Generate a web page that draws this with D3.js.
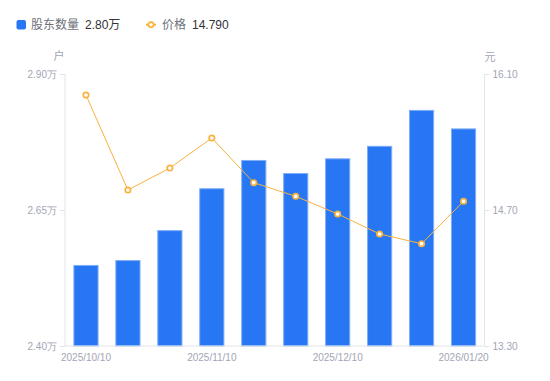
<!DOCTYPE html>
<html><head><meta charset="utf-8">
<script src="https://cdn.jsdelivr.net/npm/d3@7/dist/d3.min.js"></script>
<style>body{margin:0;background:#fff}svg{display:block;font-family:"Liberation Sans","Noto Sans CJK SC",sans-serif}</style>
</head><body><div id="chart"></div>
<script>
const dates = ["2025/10/10","2025/10/20","2025/10/31","2025/11/10","2025/11/20","2025/11/28","2025/12/10","2025/12/19","2025/12/31","2026/01/20"];
const holders = [2.549,2.558,2.613,2.690,2.742,2.718,2.745,2.768,2.834,2.800];
const prices = [15.884,14.906,15.132,15.441,14.981,14.841,14.659,14.453,14.353,14.790];
const shownDates = ["2025/10/10","2025/11/10","2025/12/10","2026/01/20"];
const leftTicks = [2.40,2.65,2.90];
const rightTicks = [13.30,14.70,16.10];

const W=550,H=381;
const m={top:74,right:65.5,bottom:35,left:65};
const svg=d3.select("#chart").append("svg").attr("width",W).attr("height",H);
const x=d3.scaleBand().domain(dates).range([m.left,W-m.right]).paddingInner(0.4).paddingOuter(0.2);
const yL=d3.scaleLinear().domain([2.40,2.90]).range([H-m.bottom,m.top]);
const yR=d3.scaleLinear().domain([13.30,16.10]).range([H-m.bottom,m.top]);
const axisColor="#e3e4e8", txt="#a2a5b4";

// bars
svg.append("g").selectAll("rect").data(holders).join("rect")
  .attr("x",(d,i)=>x(dates[i])+0.5).attr("width",x.bandwidth()-1)
  .attr("y",d=>yL(d)+0.5).attr("height",d=>yL(2.40)-yL(d)-0.5)
  .attr("fill","#2777f4").attr("stroke","#7fadf7").attr("stroke-width",1);

// axes
const gl=svg.append("g").attr("transform",`translate(${m.left},0)`)
  .call(d3.axisLeft(yL).tickValues(leftTicks).tickSize(5).tickPadding(3).tickFormat(d=>d3.format(".2f")(d)+"万"));
const gr=svg.append("g").attr("transform",`translate(${W-m.right},0)`)
  .call(d3.axisRight(yR).tickValues(rightTicks).tickSize(5).tickPadding(3).tickFormat(d3.format(".2f")));
const gb=svg.append("g").attr("transform",`translate(0,${H-m.bottom})`)
  .call(d3.axisBottom(x).tickValues(shownDates).tickSize(0).tickPadding(8));
[gl,gr,gb].forEach(g=>{
  g.selectAll("path,line").attr("stroke",axisColor);
  g.selectAll("text").attr("fill",txt).style("font-size","10px");
  g.select(".domain").attr("stroke",axisColor);
});
gl.select(".domain").attr("d",`M0,${m.top}V${H-m.bottom}`);
gr.select(".domain").attr("d",`M0,${m.top}V${H-m.bottom}`);
gb.select(".domain").attr("d",`M${m.left},0H${W-m.right}`);

// unit labels
svg.append("text").attr("x",59).attr("y",60).attr("text-anchor","middle").attr("fill",txt).style("font-size","11px").text("户");
svg.append("text").attr("x",490).attr("y",61).attr("text-anchor","middle").attr("fill",txt).style("font-size","11px").text("元");

// line
const cx=(d,i)=>x(dates[i])+x.bandwidth()/2;
const orange="#f9b23e";
svg.append("path").datum(prices).attr("fill","none").attr("stroke",orange).attr("stroke-width",1)
  .attr("d",d3.line().x(cx).y(d=>yR(d)));
svg.append("g").selectAll("circle").data(prices).join("circle")
  .attr("cx",cx).attr("cy",d=>yR(d)).attr("r",2.7)
  .attr("fill","#fff").attr("stroke",orange).attr("stroke-width",1.7);

// legend
const lg=svg.append("g");
lg.append("rect").attr("x",16.5).attr("y",20).attr("width",9.5).attr("height",9.5).attr("rx",2).attr("fill","#2777f4");
lg.append("text").attr("x",31).attr("y",29).attr("fill","#6e7079").style("font-size","12px").text("股东数量");
lg.append("text").attr("x",85).attr("y",29).attr("fill","#333").style("font-size","12px").text(d3.format(".2f")(holders[holders.length-1])+"万");
lg.append("line").attr("x1",146).attr("x2",156).attr("y1",24.7).attr("y2",24.7).attr("stroke",orange).attr("stroke-width",2);
lg.append("circle").attr("cx",151).attr("cy",24.7).attr("r",2.6).attr("fill","#fff").attr("stroke",orange).attr("stroke-width",1.6);
lg.append("text").attr("x",162).attr("y",29).attr("fill","#6e7079").style("font-size","12px").text("价格");
lg.append("text").attr("x",192).attr("y",29).attr("fill","#333").style("font-size","12px").text(d3.format(".3f")(prices[prices.length-1]));
</script></body></html>
